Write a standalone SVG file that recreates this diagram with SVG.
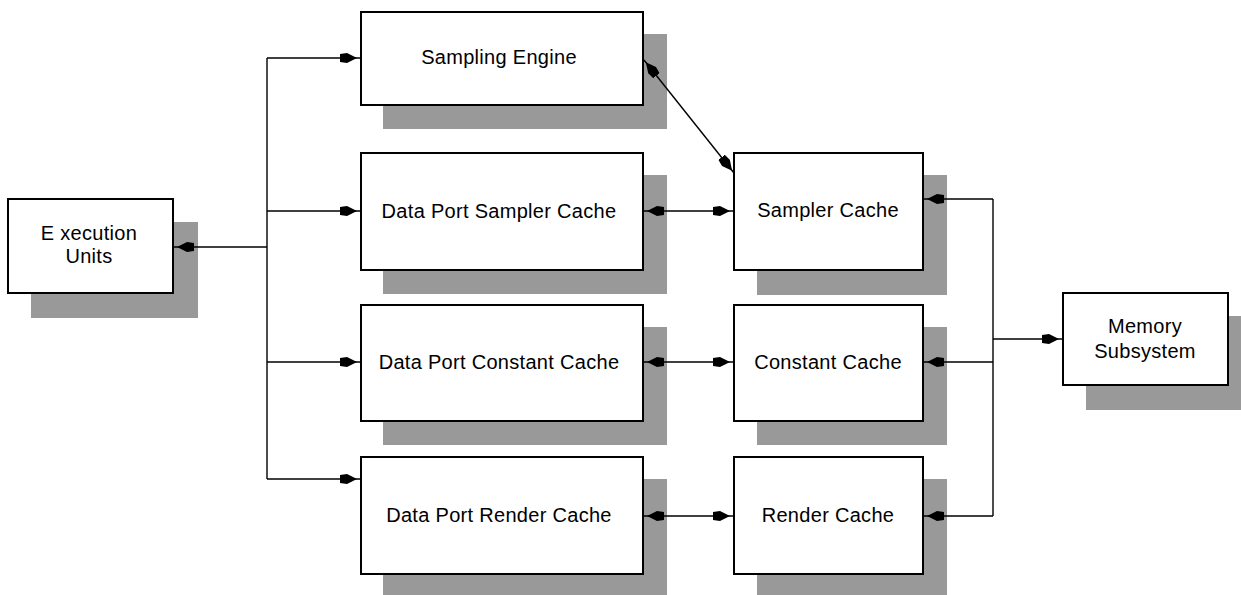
<svg xmlns="http://www.w3.org/2000/svg" width="1241" height="595" viewBox="0 0 1241 595">
<style>
.sh{fill:#999999;stroke:none}
.bx{fill:#ffffff;stroke:#000000;stroke-width:2}
.t{font-family:"Liberation Sans",Arial,sans-serif;font-size:20px;letter-spacing:0.3px;fill:#000000;text-anchor:middle;dominant-baseline:central}
.c{fill:none;stroke:#000000;stroke-width:1.4}
</style>
<defs>
<marker id="ah" viewBox="0 0 20 11" refX="20" refY="5.5" markerWidth="20" markerHeight="11" markerUnits="userSpaceOnUse" orient="auto-start-reverse">
<path d="M0,1.5 L7,0.5 L17,5.5 L7,10.5 L0,9.5 z" fill="#000000"/>
</marker>
</defs>
<rect width="1241" height="595" fill="#ffffff"/>
<g id="execution-units">
<rect class="sh" x="31" y="222" width="167" height="96"/>
<rect class="bx" x="8" y="199" width="165" height="94"/>
<text class="t" x="89" y="233">E xecution</text>
<text class="t" x="89" y="256">Units</text>
</g>
<g id="sampling-engine">
<rect class="sh" x="383" y="34" width="284" height="95"/>
<rect class="bx" x="361" y="12" width="282" height="93"/>
<text class="t" x="499" y="57">Sampling Engine</text>
</g>
<g id="dp-sampler-cache">
<rect class="sh" x="383" y="175" width="284" height="119"/>
<rect class="bx" x="361" y="153" width="282" height="117"/>
<text class="t" x="499" y="211">Data Port Sampler Cache</text>
</g>
<g id="dp-constant-cache">
<rect class="sh" x="383" y="327" width="284" height="118"/>
<rect class="bx" x="361" y="305" width="282" height="116"/>
<text class="t" x="499" y="362">Data Port Constant Cache</text>
</g>
<g id="dp-render-cache">
<rect class="sh" x="383" y="479" width="284" height="119"/>
<rect class="bx" x="361" y="457" width="282" height="117"/>
<text class="t" x="499" y="515">Data Port Render Cache</text>
</g>
<g id="sampler-cache">
<rect class="sh" x="757" y="175" width="190" height="120"/>
<rect class="bx" x="734" y="153" width="189" height="117"/>
<text class="t" x="828" y="210">Sampler Cache</text>
</g>
<g id="constant-cache">
<rect class="sh" x="757" y="327" width="190" height="118"/>
<rect class="bx" x="734" y="305" width="189" height="116"/>
<text class="t" x="828" y="362">Constant Cache</text>
</g>
<g id="render-cache">
<rect class="sh" x="757" y="479" width="190" height="119"/>
<rect class="bx" x="734" y="457" width="189" height="117"/>
<text class="t" x="828" y="515">Render Cache</text>
</g>
<g id="memory-subsystem">
<rect class="sh" x="1086" y="316" width="167" height="94"/>
<rect class="bx" x="1063" y="293" width="165" height="92"/>
<text class="t" x="1145" y="326">Memory</text>
<text class="t" x="1145" y="351">Subsystem</text>
</g>
<g id="connectors">
<path class="c" d="M267,58 L267,479"/>
<path class="c" d="M267,247 L174,247" marker-end="url(#ah)"/>
<path class="c" d="M267,58 L360,58" marker-end="url(#ah)"/>
<path class="c" d="M267,211 L360,211" marker-end="url(#ah)"/>
<path class="c" d="M267,362 L360,362" marker-end="url(#ah)"/>
<path class="c" d="M267,479 L360,479" marker-end="url(#ah)"/>
<path class="c" d="M644,211 L733,211" marker-start="url(#ah)" marker-end="url(#ah)"/>
<path class="c" d="M644,362 L733,362" marker-start="url(#ah)" marker-end="url(#ah)"/>
<path class="c" d="M644,516 L733,516" marker-start="url(#ah)" marker-end="url(#ah)"/>
<path class="c" d="M644,60 L734,173" marker-start="url(#ah)" marker-end="url(#ah)"/>
<path class="c" d="M993,199 L993,516"/>
<path class="c" d="M993,199 L924,199" marker-end="url(#ah)"/>
<path class="c" d="M993,362 L924,362" marker-end="url(#ah)"/>
<path class="c" d="M993,516 L924,516" marker-end="url(#ah)"/>
<path class="c" d="M993,339 L1062,339" marker-end="url(#ah)"/>
</g>
</svg>
